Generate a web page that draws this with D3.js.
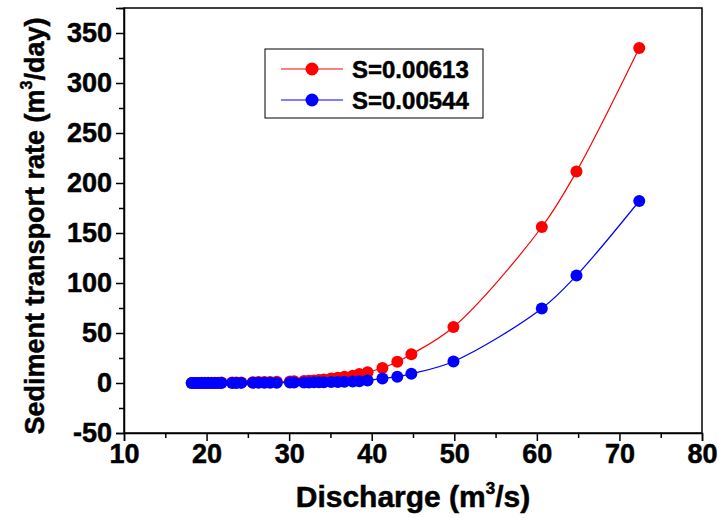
<!DOCTYPE html>
<html><head><meta charset="utf-8">
<script src="https://cdn.jsdelivr.net/npm/d3@7/dist/d3.min.js"></script>
<style>
html,body{margin:0;padding:0;background:#fff;}
text{font-family:"Liberation Sans",Arial,sans-serif;font-weight:bold;fill:#000;stroke:#000;stroke-width:0.5px;}
</style></head>
<body>
<svg id="chart" width="719" height="518"></svg>
<script>
const discharge = [18.2, 18.6, 19.0, 19.4, 19.8, 20.2, 20.6, 21.0, 21.4, 21.8, 23.1, 23.6, 24.2, 25.6, 26.3, 27.0, 27.7, 28.5, 30.1, 30.6, 31.8, 32.4, 33.0, 33.6, 34.2, 35.1, 35.9, 36.7, 37.7, 38.5, 39.5, 41.3, 43.1, 44.8, 49.9, 60.6, 64.8, 72.4];
const rateS00613 = [0.1, 0.1, 0.1, 0.2, 0.2, 0.2, 0.3, 0.3, 0.3, 0.4, 0.5, 0.5, 0.6, 0.8, 0.9, 1.0, 1.1, 1.3, 1.6, 1.8, 2.1, 2.3, 2.6, 2.9, 3.5, 4.5, 5.3, 6.2, 7.3, 9.0, 10.8, 15.0, 21.3, 28.7, 56.0, 156.0, 211.5, 335.0];
const rateS00544 = [0.02, 0.02, 0.03, 0.03, 0.04, 0.04, 0.05, 0.05, 0.06, 0.07, 0.1, 0.1, 0.12, 0.15, 0.18, 0.2, 0.25, 0.3, 0.4, 0.45, 0.5, 0.6, 0.65, 0.7, 0.8, 0.9, 1.0, 1.2, 1.4, 1.7, 2.5, 4.5, 6.3, 9.2, 21.5, 74.5, 107.5, 182.0];
const seriesNames = ["S=0.00613", "S=0.00544"];
const seriesColors = ["#ff0000", "#0000ff"];
const xTicks = [10, 20, 30, 40, 50, 60, 70, 80];
const yTicks = [-50, 0, 50, 100, 150, 200, 250, 300, 350];

const svg = d3.select("#chart");
const L = 124, R = 702, T = 8, B = 433;
const x = d3.scaleLinear().domain([10, 80]).range([L, R]);
const y = d3.scaleLinear().domain([-50, 375]).range([B, T]);

// frame
svg.append("rect").attr("x", L).attr("y", T).attr("width", R - L).attr("height", B - T)
  .attr("fill", "none").attr("stroke", "#000").attr("stroke-width", 1.5);

// x axis
const xAxis = d3.axisBottom(x).tickValues(xTicks).tickSize(8).tickPadding(3).tickFormat(d => String(d));
const gx = svg.append("g").attr("transform", `translate(0,${B})`).call(xAxis);
gx.select(".domain").attr("stroke-width", 1.5);
gx.selectAll(".tick line").attr("stroke-width", 1.5);
gx.selectAll(".tick text").attr("font-size", 27).attr("fill", "#000").attr("dy", "0.72em")
  .attr("font-family", "Liberation Sans, Arial, sans-serif").attr("font-weight", "bold");
const xMinor = d3.axisBottom(x).tickValues(d3.range(15, 80, 10)).tickSize(5).tickFormat("");
const gxm = svg.append("g").attr("transform", `translate(0,${B})`).call(xMinor);
gxm.select(".domain").remove();
gxm.selectAll(".tick line").attr("stroke-width", 1.5);

// y axis
const yAxis = d3.axisLeft(y).tickValues(yTicks).tickSize(8).tickPadding(4).tickFormat(d => String(d));
const gy = svg.append("g").attr("transform", `translate(${L},0)`).call(yAxis);
gy.select(".domain").attr("stroke-width", 1.5);
gy.selectAll(".tick line").attr("stroke-width", 1.5);
gy.selectAll(".tick text").attr("font-size", 27).attr("fill", "#000")
  .attr("font-family", "Liberation Sans, Arial, sans-serif").attr("font-weight", "bold");
const yMinor = d3.axisLeft(y).tickValues(d3.range(-25, 376, 50)).tickSize(5).tickFormat("");
const gym = svg.append("g").attr("transform", `translate(${L},0)`).call(yMinor);
gym.select(".domain").remove();
gym.selectAll(".tick line").attr("stroke-width", 1.5);

// axis titles
const xt = svg.append("text").attr("x", 413).attr("y", 507).attr("text-anchor", "middle").attr("font-size", 30);
xt.append("tspan").text("Discharge (m");
xt.append("tspan").text("3").attr("font-size", 17).attr("dy", -13);
xt.append("tspan").text("/s)").attr("dy", 13);

const yt = svg.append("text").attr("transform", "translate(44,226) rotate(-90)").attr("text-anchor", "middle").attr("font-size", 27);
yt.append("tspan").text("Sediment transport rate (m");
yt.append("tspan").text("3").attr("font-size", 16).attr("dy", -12);
yt.append("tspan").text("/day)").attr("dy", 12);

// series
const seriesData = [rateS00613, rateS00544];
const line = d3.line().x(d => x(d[0])).y(d => y(d[1])).curve(d3.curveCatmullRom.alpha(0.5));
seriesData.forEach((vals, i) => {
  const pts = discharge.map((d, j) => [d, vals[j]]);
  svg.append("path").datum(pts).attr("d", line).attr("fill", "none")
    .attr("stroke", seriesColors[i]).attr("stroke-width", 1.2);
});
seriesData.forEach((vals, i) => {
  const pts = discharge.map((d, j) => [d, vals[j]]);
  svg.append("g").selectAll("circle").data(pts).join("circle")
    .attr("cx", d => x(d[0])).attr("cy", d => y(d[1])).attr("r", 6)
    .attr("fill", seriesColors[i]);
});

// legend
const lg = svg.append("g");
lg.append("rect").attr("x", 265).attr("y", 49).attr("width", 218).attr("height", 69)
  .attr("fill", "#fff").attr("stroke", "#000").attr("stroke-width", 1);
seriesNames.forEach((n, i) => {
  const yy = 69 + i * 31;
  lg.append("line").attr("x1", 281).attr("x2", 343).attr("y1", yy).attr("y2", yy)
    .attr("stroke", seriesColors[i]).attr("stroke-width", 1.2);
  lg.append("circle").attr("cx", 312).attr("cy", yy).attr("r", 6.5).attr("fill", seriesColors[i]);
  lg.append("text").attr("x", 352).attr("y", yy + 9).attr("font-size", 24).text(n);
});
</script>
</body></html>
